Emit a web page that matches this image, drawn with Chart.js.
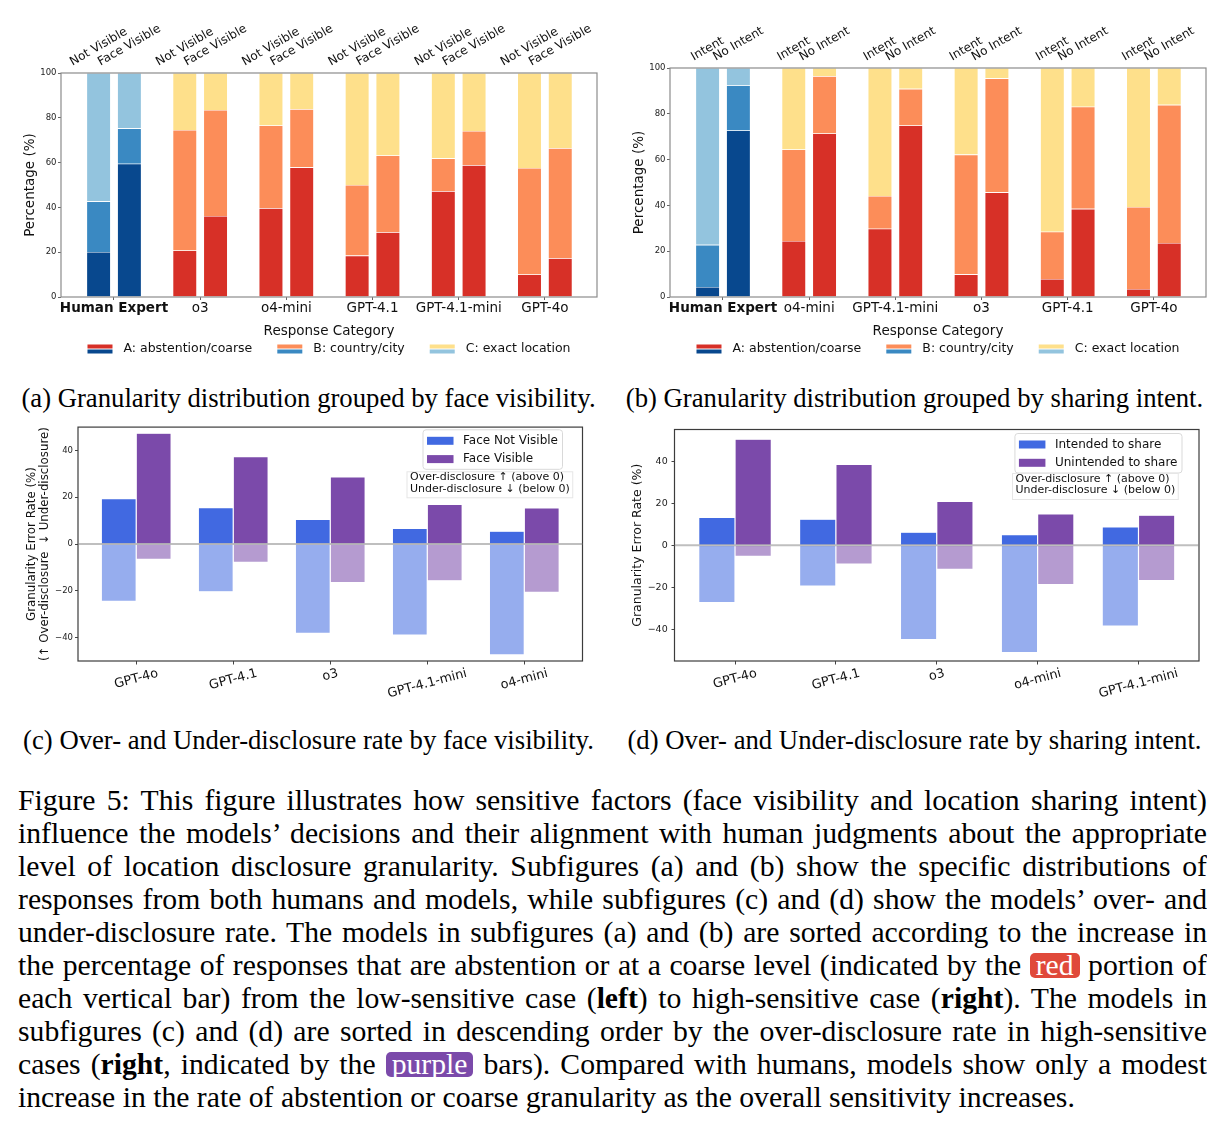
<!DOCTYPE html>
<html lang="en">
<head>
<meta charset="utf-8">
<title>Figure 5</title>
<script src="https://cdn.jsdelivr.net/npm/chart.js@4.4.1/dist/chart.umd.min.js"></script>
<style>
  body { margin: 0; background: #fff; }
  #pagina { position: relative; width: 1224px; height: 1128px; overflow: hidden; background: #fff; }
  canvas { position: absolute; }
  .subtitulo { position: absolute; font-family: 'Liberation Serif', serif; font-size: 26.7px; line-height: 32px; text-align: center; color: #000; white-space: nowrap; }
  #pie { position: absolute; left: 18px; top: 784px; width: 1189px; font-family: 'Liberation Serif', serif; font-size: 29.7px; color: #000; word-spacing: -2px; }
  #pie div { height: 33px; line-height: 33px; text-align: justify; text-align-last: justify; overflow: hidden; }
  #pie div.ultima { text-align-last: left; word-spacing: 0; }
  .marca { display: inline-block; line-height: 25px; color: #fff; border-radius: 5px; padding: 0 6px; word-spacing: 0; }
</style>
</head>
<body>
<div id="pagina">
  <canvas id="graficoA" width="610" height="345" style="left:0px;top:20px"></canvas>
  <canvas id="graficoB" width="614" height="345" style="left:610px;top:20px"></canvas>
  <canvas id="graficoC" width="610" height="300" style="left:0px;top:420px"></canvas>
  <canvas id="graficoD" width="614" height="300" style="left:610px;top:420px"></canvas>

  <div class="subtitulo" style="left:0px;top:382px;width:617px">(a) Granularity distribution grouped by face visibility.</div>
  <div class="subtitulo" style="left:605px;top:382px;width:619px">(b) Granularity distribution grouped by sharing intent.</div>
  <div class="subtitulo" style="left:0px;top:724px;width:617px">(c) Over- and Under-disclosure rate by face visibility.</div>
  <div class="subtitulo" style="left:605px;top:724px;width:619px">(d) Over- and Under-disclosure rate by sharing intent.</div>

  <div id="pie">
    <div>Figure 5: This figure illustrates how sensitive factors (face visibility and location sharing intent)</div>
    <div>influence the models’ decisions and their alignment with human judgments about the appropriate</div>
    <div>level of location disclosure granularity. Subfigures (a) and (b) show the specific distributions of</div>
    <div>responses from both humans and models, while subfigures (c) and (d) show the models’ over- and</div>
    <div>under-disclosure rate. The models in subfigures (a) and (b) are sorted according to the increase in</div>
    <div>the percentage of responses that are abstention or at a coarse level (indicated by the <span class="marca" style="background:#e0493a">red</span> portion of</div>
    <div>each vertical bar) from the low-sensitive case (<b>left</b>) to high-sensitive case (<b>right</b>). The models in</div>
    <div>subfigures (c) and (d) are sorted in descending order by the over-disclosure rate in high-sensitive</div>
    <div>cases (<b>right</b>, indicated by the <span class="marca" style="background:#7b4aaa">purple</span> bars). Compared with humans, models show only a modest</div>
    <div class="ultima">increase in the rate of abstention or coarse granularity as the overall sensitivity increases.</div>
  </div>
</div>

<script>
/* Fuente y color de texto comunes a todos los gráficos */
Chart.defaults.font.family = "'DejaVu Sans', sans-serif";
Chart.defaults.color = '#222';

/* ── DATOS (a): granularidad agrupada por visibilidad de la cara ──
   Cada barra apilada: A (abstención/grueso), B (país/ciudad), C (ubicación exacta), en % */
var modelosA = ['Human Expert', 'o3', 'o4-mini', 'GPT-4.1', 'GPT-4.1-mini', 'GPT-4o'];
var barrasA = ['Not Visible', 'Face Visible'];
var noVisibleA_A = [20.1, 20.8, 39.7, 18.5, 47.3, 10.1];
var noVisibleA_B = [22.6, 53.8, 36.9, 31.5, 14.6, 47.5];
var noVisibleA_C = [57.3, 25.4, 23.4, 50.0, 38.1, 42.4];
var visibleA_A = [59.5, 36.2, 57.9, 28.9, 58.9, 17.3];
var visibleA_B = [15.8, 47.3, 26.0, 34.3, 15.2, 49.2];
var visibleA_C = [24.7, 16.5, 16.1, 36.8, 25.9, 33.5];

/* ── DATOS (b): granularidad agrupada por intención de compartir ── */
var modelosB = ['Human Expert', 'o4-mini', 'GPT-4.1-mini', 'o3', 'GPT-4.1', 'GPT-4o'];
var barrasB = ['Intent', 'No Intent'];
var intentB_A = [4.4, 24.5, 29.8, 9.9, 7.9, 3.5];
var intentB_B = [18.4, 39.9, 14.3, 52.3, 20.6, 35.8];
var intentB_C = [77.2, 35.6, 55.9, 37.8, 71.5, 60.7];
var noIntentB_A = [72.7, 71.4, 74.9, 45.7, 38.5, 23.6];
var noIntentB_B = [19.7, 25.0, 16.0, 49.8, 44.6, 60.3];
var noIntentB_C = [7.6, 3.6, 9.1, 4.5, 16.9, 16.1];

var nivelesGranularidad = ['A: abstention/coarse', 'B: country/city', 'C: exact location'];
var ticksPorcentaje = [0, 20, 40, 60, 80, 100];

/* ── DATOS (c): sobre/sub-divulgación según visibilidad de la cara ── */
var modelosC = ['GPT-4o', 'GPT-4.1', 'o3', 'GPT-4.1-mini', 'o4-mini'];
var seriesC = ['Face Not Visible', 'Face Visible'];
var sobreNoVisibleC = [19.4, 15.6, 10.5, 6.7, 5.5];
var bajoNoVisibleC = [-24.5, -20.4, -38.2, -38.9, -47.4];
var sobreVisibleC = [47.4, 37.4, 28.7, 17.0, 15.5];
var bajoVisibleC = [-6.5, -7.8, -16.5, -15.7, -20.6];

/* ── DATOS (d): sobre/sub-divulgación según intención de compartir ── */
var modelosD = ['GPT-4o', 'GPT-4.1', 'o3', 'o4-mini', 'GPT-4.1-mini'];
var seriesD = ['Intended to share', 'Unintended to share'];
var sobreIntencionD = [13.2, 12.4, 6.2, 5.0, 8.7];
var bajoIntencionD = [-27.2, -19.4, -44.8, -51.0, -38.4];
var sobreSinIntencionD = [50.4, 38.4, 20.8, 14.9, 14.3];
var bajoSinIntencionD = [-5.3, -8.9, -11.5, -18.7, -16.8];

var ticksError = [-40, -20, 0, 20, 40];
var notaDivulgacion = ['Over-disclosure \u2191 (above 0)', 'Under-disclosure \u2193 (below 0)'];

/* Colores: rojos para modelos, azules para el experto humano (A, B, C) */
var rojos = ['#d73027', '#fc8d59', '#fee08b'];
var azules = ['#08488e', '#3a89c2', '#93c4de'];
var azulFuerte = '#4169e1', azulSuave = '#96adee';
var moradoFuerte = '#7b4aaa', moradoSuave = '#b59bd0';

/* Convierte una lista de valores en puntos {x: índice, y: valor} */
function puntos(valores) {
    return valores.map(function (v, i) { return { x: i, y: v }; });
}

/* Texto girado (grados en sentido antihorario) centrado en (cx, cy) */
function textoRotado(ctx, texto, cx, cy, grados) {
    ctx.save();
    ctx.translate(cx, cy);
    ctx.rotate(-grados * Math.PI / 180);
    ctx.textAlign = 'center';
    ctx.textBaseline = 'middle';
    ctx.fillText(texto, 0, 0);
    ctx.restore();
}
/* Alto de la caja que ocupa un texto girado */
function altoRotado(ctx, texto, grados, size) {
    var r = grados * Math.PI / 180;
    var w = ctx.measureText(texto).width, h = size * 1.17;
    return w * Math.sin(r) + h * Math.cos(r);
}

/* ── PLUGIN: marco completo alrededor del área de trazado ── */
var marco = {
    id: 'marco',
    afterDatasetsDraw: function (chart, args, opts) {
        var a = chart.chartArea, ctx = chart.ctx;
        ctx.save();
        ctx.strokeStyle = opts.color;
        ctx.lineWidth = 1.2;
        ctx.strokeRect(a.left, a.top, a.right - a.left, a.bottom - a.top);
        ctx.restore();
    }
};

/* ── PLUGIN: nombres girados encima de cada barra (a, b) ── */
var etiquetasArriba = {
    id: 'etiquetasArriba',
    afterDraw: function (chart, args, opts) {
        var ctx = chart.ctx, top = chart.chartArea.top;
        ctx.save();
        ctx.font = '12px "DejaVu Sans"';
        ctx.fillStyle = '#111';
        /* dataset 0 = primera pila, dataset 3 = segunda pila */
        [0, 3].forEach(function (indice, k) {
            chart.getDatasetMeta(indice).data.forEach(function (barra) {
                var h = altoRotado(ctx, opts.nombres[k], 30, 12);
                textoRotado(ctx, opts.nombres[k], barra.x, top - 4 - h / 2, 30);
            });
        });
        ctx.restore();
    }
};

/* ── PLUGIN: leyenda con muestras partidas (rojo arriba, azul abajo) ── */
var leyendaPartida = {
    id: 'leyendaPartida',
    afterDraw: function (chart, args, opts) {
        var ctx = chart.ctx, a = chart.chartArea;
        ctx.save();
        ctx.font = '12.5px "DejaVu Sans"';
        var anchos = opts.textos.map(function (t) { return ctx.measureText(t).width; });
        var total = 0;
        anchos.forEach(function (w) { total += 25 + 11 + w; });
        total += 25 * (anchos.length - 1);
        var x = (a.left + a.right) / 2 - total / 2;
        var y = a.bottom + 52;
        opts.textos.forEach(function (t, i) {
            ctx.fillStyle = rojos[i];
            ctx.fillRect(x, y - 4.5, 25, 4);
            ctx.fillStyle = azules[i];
            ctx.fillRect(x, y + 0.5, 25, 4);
            ctx.fillStyle = '#111';
            ctx.textBaseline = 'middle';
            ctx.fillText(t, x + 36, y);
            x += 25 + 11 + anchos[i] + 25;
        });
        ctx.restore();
    }
};

/* ── PLUGIN: línea del cero, leyenda, nota y etiquetas giradas (c, d) ── */
var decoError = {
    id: 'decoError',
    afterDatasetsDraw: function (chart) {
        var ctx = chart.ctx, a = chart.chartArea;
        var y0 = chart.scales.y.getPixelForValue(0);
        ctx.save();
        ctx.strokeStyle = 'rgba(128,128,128,0.5)';
        ctx.lineWidth = 2;
        ctx.beginPath();
        ctx.moveTo(a.left, y0);
        ctx.lineTo(a.right, y0);
        ctx.stroke();
        ctx.restore();
    },
    afterDraw: function (chart, args, opts) {
        var ctx = chart.ctx, a = chart.chartArea;
        ctx.save();
        ctx.textBaseline = 'middle';

        /* leyenda con las dos series */
        ctx.font = '12px "DejaVu Sans"';
        var anchoTexto = Math.max.apply(null, opts.series.map(function (t) { return ctx.measureText(t).width; }));
        var ancho = 4 + 26.5 + 9.5 + anchoTexto + 4.5;
        var der = a.right - opts.leyendaDer, arriba = a.top + opts.leyendaArriba;
        var izq = der - ancho;
        ctx.fillStyle = 'rgba(255,255,255,0.85)';
        ctx.strokeStyle = '#d9d9d9';
        ctx.lineWidth = 1;
        ctx.beginPath();
        ctx.roundRect(izq, arriba, ancho, 39.5, 3);
        ctx.fill();
        ctx.stroke();
        [azulFuerte, moradoFuerte].forEach(function (color, i) {
            var yc = arriba + 11 + i * 18.3;
            ctx.fillStyle = color;
            ctx.fillRect(izq + 4, yc - 4, 26.5, 8);
            ctx.fillStyle = '#111';
            ctx.fillText(opts.series[i], izq + 40, yc);
        });

        /* nota explicativa de los signos */
        ctx.font = '11px "DejaVu Sans"';
        var anchoNota = Math.max.apply(null, notaDivulgacion.map(function (t) { return ctx.measureText(t).width; }));
        var nx = a.left + opts.notaIzq, ny = a.top + opts.notaArriba;
        ctx.fillStyle = '#fff';
        ctx.strokeStyle = '#e6e6e6';
        ctx.fillRect(nx - 3, ny, anchoNota + 6, 26);
        ctx.strokeRect(nx - 3, ny, anchoNota + 6, 26);
        ctx.fillStyle = '#111';
        notaDivulgacion.forEach(function (t, i) {
            ctx.fillText(t, nx, ny + 5.8 + i * 11.2);
        });

        /* etiquetas del eje X giradas 15 grados */
        ctx.font = '12.8px "DejaVu Sans"';
        ctx.fillStyle = '#111';
        opts.modelos.forEach(function (m, i) {
            var x = chart.scales.x.getPixelForValue(i);
            var h = altoRotado(ctx, m, 15, 12.8);
            textoRotado(ctx, m, x, a.bottom + 5 + h / 2, 15);
        });
        ctx.restore();
    }
};

/* ── FUNCIÓN: graficoGranularidad ──
   Barras apiladas en dos pilas por modelo (a, b). */
function graficoGranularidad(idCanvas, modelos, barras, partesIzq, partesDer, geo) {
    var datasets = [];
    [partesIzq, partesDer].forEach(function (partes, p) {
        partes.forEach(function (serie, nivel) {
            datasets.push({
                label: nivelesGranularidad[nivel],
                stack: 'pila' + p,
                data: puntos(serie),
                backgroundColor: serie.map(function (v, i) { return i === 0 ? azules[nivel] : rojos[nivel]; }),
                borderColor: 'rgba(255,255,255,0.6)',
                borderWidth: 0.6,
                categoryPercentage: 0.714,
                barPercentage: 0.786
            });
        });
    });
    new Chart(document.getElementById(idCanvas), {
        type: 'bar',
        data: { datasets: datasets },
        options: {
            responsive: false,
            animation: false,
            devicePixelRatio: 1,
            events: [],
            layout: { padding: geo.padding },
            plugins: {
                legend: { display: false },
                tooltip: { enabled: false },
                marco: { color: '#8c8c8c' },
                etiquetasArriba: { nombres: barras },
                leyendaPartida: { textos: nivelesGranularidad }
            },
            scales: {
                x: {
                    type: 'linear',
                    stacked: true,
                    offset: false,
                    min: -0.615,
                    max: 5.605,
                    afterBuildTicks: function (s) { s.ticks = modelos.map(function (m, i) { return { value: i }; }); },
                    afterFit: function (s) { s.height = 48; },
                    grid: { offset: false, drawOnChartArea: false, tickLength: 3, color: '#666' },
                    border: { display: false },
                    ticks: {
                        autoSkip: false, maxRotation: 0, minRotation: 0, padding: 0.5, color: '#111',
                        font: function (c) { return { size: 13.5, weight: c.index === 0 ? 'bold' : 'normal' }; },
                        callback: function (v) { return modelos[v]; }
                    },
                    title: { display: true, text: 'Response Category', color: '#111', font: { size: 13.5 }, padding: { top: 0, bottom: 5 } }
                },
                y: {
                    stacked: true,
                    min: 0,
                    max: 100,
                    afterBuildTicks: function (s) { s.ticks = ticksPorcentaje.map(function (v) { return { value: v }; }); },
                    afterFit: function (s) { s.width = geo.anchoY; },
                    grid: { drawOnChartArea: false, tickLength: 3, color: '#666' },
                    border: { display: false },
                    ticks: { font: { size: 8.5 }, padding: 1.5, color: '#222' },
                    title: { display: true, text: 'Percentage (%)', color: '#111', font: { size: 13.5 }, padding: { top: geo.tituloY, bottom: 0 } }
                }
            }
        },
        plugins: [marco, etiquetasArriba, leyendaPartida]
    });
}

/* ── FUNCIÓN: graficoError ──
   Barras hacia arriba (sobre-divulgación) y hacia abajo (sub-divulgación) (c, d). */
function graficoError(idCanvas, modelos, series, sobre1, bajo1, sobre2, bajo2, geo) {
    var base = { categoryPercentage: 0.72, barPercentage: 1, borderColor: 'rgba(255,255,255,0.5)', borderWidth: 0.6 };
    var datasets = [
        Object.assign({ label: series[0], stack: 's1', data: puntos(sobre1), backgroundColor: azulFuerte }, base),
        Object.assign({ label: series[0], stack: 's1', data: puntos(bajo1), backgroundColor: azulSuave }, base),
        Object.assign({ label: series[1], stack: 's2', data: puntos(sobre2), backgroundColor: moradoFuerte }, base),
        Object.assign({ label: series[1], stack: 's2', data: puntos(bajo2), backgroundColor: moradoSuave }, base)
    ];
    new Chart(document.getElementById(idCanvas), {
        type: 'bar',
        data: { datasets: datasets },
        options: {
            responsive: false,
            animation: false,
            devicePixelRatio: 1,
            events: [],
            layout: { padding: geo.padding },
            plugins: {
                legend: { display: false },
                tooltip: { enabled: false },
                marco: { color: '#3c3c3c' },
                decoError: {
                    series: series, modelos: modelos,
                    leyendaDer: geo.leyendaDer, leyendaArriba: geo.leyendaArriba,
                    notaIzq: geo.notaIzq, notaArriba: geo.notaArriba
                }
            },
            scales: {
                x: {
                    type: 'linear',
                    stacked: true,
                    offset: false,
                    min: -0.6,
                    max: 4.6,
                    afterBuildTicks: function (s) { s.ticks = modelos.map(function (m, i) { return { value: i }; }); },
                    afterFit: function (s) { s.height = 59; },
                    grid: { offset: false, drawOnChartArea: false, tickLength: 3.5, color: '#444' },
                    border: { display: false },
                    ticks: { display: false }
                },
                y: {
                    stacked: true,
                    min: geo.yMin,
                    max: geo.yMax,
                    afterBuildTicks: function (s) { s.ticks = ticksError.map(function (v) { return { value: v }; }); },
                    afterFit: function (s) { s.width = geo.anchoY; },
                    grid: { drawOnChartArea: false, tickLength: 3, color: '#444' },
                    border: { display: false },
                    ticks: {
                        font: { size: geo.fuenteTicks }, padding: geo.padTicks, color: '#222',
                        callback: function (v) { return String(v).replace('-', '\u2212'); }
                    },
                    title: { display: true, text: geo.tituloY, color: '#111', font: { size: geo.fuenteTitulo, lineHeight: 1.1 }, padding: { top: geo.padTitulo, bottom: 0 } }
                }
            }
        },
        plugins: [marco, decoError]
    });
}

graficoGranularidad('graficoA', modelosA, barrasA,
    [noVisibleA_A, noVisibleA_B, noVisibleA_C], [visibleA_A, visibleA_B, visibleA_C],
    { padding: { top: 53, right: 13, bottom: 20, left: 0 }, anchoY: 61, tituloY: 22 });

graficoGranularidad('graficoB', modelosB, barrasB,
    [intentB_A, intentB_B, intentB_C], [noIntentB_A, noIntentB_B, noIntentB_C],
    { padding: { top: 48, right: 18, bottom: 20, left: 0 }, anchoY: 60, tituloY: 21 });

graficoError('graficoC', modelosC, seriesC, sobreNoVisibleC, bajoNoVisibleC, sobreVisibleC, bajoVisibleC, {
    padding: { top: 6, right: 27.5, bottom: 0, left: 0 }, anchoY: 78, yMin: -50, yMax: 50,
    fuenteTicks: 8.5, padTicks: 2, fuenteTitulo: 11.8, padTitulo: 25.5,
    tituloY: ['Granularity Error Rate (%)', '(\u2191 Over-disclosure  \u2193 Under-disclosure)'],
    leyendaDer: 20, leyendaArriba: 2.7, notaIzq: 332, notaArriba: 44.7
});

graficoError('graficoD', modelosD, seriesD, sobreIntencionD, bajoIntencionD, sobreSinIntencionD, bajoSinIntencionD, {
    padding: { top: 6, right: 25, bottom: 0, left: 0 }, anchoY: 64.5, yMin: -55, yMax: 55,
    fuenteTicks: 9.5, padTicks: 3.8, fuenteTitulo: 12.5, padTitulo: 20.5,
    tituloY: 'Granularity Error Rate (%)',
    leyendaDer: 17, leyendaArriba: 4, notaIzq: 341, notaArriba: 44
});
</script>
</body>
</html>
